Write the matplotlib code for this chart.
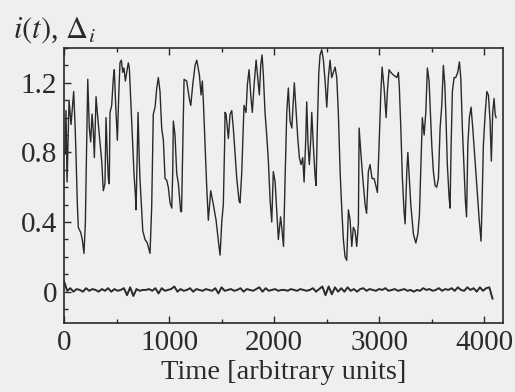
import matplotlib
matplotlib.use('Agg')
import matplotlib.pyplot as plt
from matplotlib.ticker import MultipleLocator
import numpy as np

# i(t) (time, value)
signal_t = [
    0, 10, 19, 29, 48, 57, 67, 79, 92, 105, 114, 127, 136, 159, 174, 190,
    203, 216, 226, 241, 254, 267, 279, 289, 305, 317, 336, 359, 374, 390,
    400, 412, 422, 431, 438, 454, 470, 479, 492, 508, 521, 533, 546, 559,
    571, 584, 597, 612, 622, 635, 654, 667, 679, 686, 705, 717, 724, 750,
    771, 793, 819, 835, 845, 850, 867, 883, 898, 914, 930, 946, 962, 978,
    993, 1010, 1026, 1035, 1041, 1057, 1073, 1089, 1111, 1119, 1143, 1168,
    1193, 1207, 1226, 1248, 1264, 1289, 1305, 1317, 1327, 1343, 1359, 1374,
    1397, 1422, 1448, 1470, 1486, 1502, 1517, 1530, 1533, 1543, 1565, 1581,
    1597, 1612, 1629, 1645, 1667, 1676, 1692, 1714, 1733, 1746, 1762, 1778,
    1793, 1810, 1829, 1845, 1860, 1873, 1886, 1898, 1914, 1930, 1946, 1962,
    1978, 1993, 2010, 2026, 2041, 2062, 2073, 2090, 2105, 2121, 2136, 2152,
    2169, 2184, 2193, 2210, 2226, 2241, 2257, 2273, 2286, 2302, 2311, 2324,
    2336, 2350, 2359, 2374, 2390, 2400, 2412, 2426, 2438, 2454, 2470, 2486,
    2502, 2517, 2533, 2549, 2565, 2581, 2597, 2612, 2629, 2645, 2660, 2676,
    2692, 2708, 2724, 2740, 2755, 2771, 2787, 2803, 2810, 2826, 2845, 2867,
    2881, 2898, 2914, 2933, 2952, 2969, 2984, 3000, 3016, 3029, 3048, 3067,
    3079, 3095, 3111, 3136, 3169, 3184, 3193, 3207, 3222, 3238, 3248, 3264,
    3274, 3289, 3302, 3327, 3350, 3369, 3384, 3400, 3412, 3429, 3445, 3460,
    3476, 3486, 3502, 3517, 3533, 3549, 3565, 3581, 3597, 3612, 3626, 3638,
    3650, 3667, 3676, 3686, 3698, 3714, 3730, 3749, 3765, 3778, 3793, 3810,
    3822, 3833, 3845, 3860, 3876, 3892, 3914, 3936, 3955, 3971, 3981, 3993,
    4010, 4026, 4041, 4057, 4069, 4082, 4095, 4105, 4114,
]
signal_v = [
    0.80, 0.79, 1.04, 0.63, 1.10, 1.03, 0.96, 1.05, 1.15, 0.96, 0.79, 0.50,
    0.37, 0.34, 0.30, 0.22, 0.39, 0.87, 1.22, 0.94, 0.86, 1.02, 0.92, 0.77,
    1.12, 1.03, 0.90, 0.75, 0.58, 0.62, 1.00, 0.79, 0.65, 0.62, 1.03, 1.07,
    1.23, 1.275, 1.07, 0.87, 1.13, 1.315, 1.33, 1.26, 1.285, 1.21, 1.26,
    1.315, 1.285, 1.11, 0.84, 0.67, 0.56, 0.47, 1.03, 0.75, 0.64, 0.35,
    0.30, 0.28, 0.22, 0.49, 0.87, 1.02, 1.06, 1.17, 1.23, 1.15, 0.94, 0.87,
    0.65, 0.64, 0.60, 0.51, 0.48, 0.68, 0.98, 0.90, 0.68, 0.62, 0.46, 0.46,
    1.22, 1.21, 1.11, 1.07, 1.19, 1.30, 1.33, 1.245, 1.13, 1.21, 1.09, 0.84,
    0.60, 0.41, 0.58, 0.50, 0.41, 0.29, 0.21, 0.40, 0.50, 0.87, 1.03, 1.02,
    0.88, 1.02, 1.04, 0.94, 0.79, 0.65, 0.52, 0.51, 0.68, 1.07, 1.03, 1.19,
    1.275, 1.13, 1.03, 1.19, 1.33, 1.23, 1.13, 1.30, 1.36, 1.245, 1.03,
    0.90, 0.75, 0.53, 0.40, 0.69, 0.63, 0.46, 0.30, 0.43, 0.37, 0.26, 0.65,
    1.03, 1.17, 0.98, 0.94, 1.11, 1.20, 1.03, 0.88, 0.77, 0.73, 0.77, 0.63,
    0.88, 1.09, 0.84, 0.73, 0.88, 1.03, 0.84, 0.67, 0.61, 0.94, 1.26, 1.36,
    1.39, 1.33, 1.21, 1.06, 1.23, 1.33, 1.23, 1.26, 1.29, 1.23, 1.03, 0.69,
    0.47, 0.30, 0.20, 0.18, 0.47, 0.41, 0.26, 0.37, 0.35, 0.26, 0.39, 0.94,
    0.80, 0.65, 0.50, 0.45, 0.69, 0.73, 0.65, 0.65, 0.61, 0.57, 0.84, 1.13,
    1.29, 1.17, 1.00, 1.15, 1.275, 1.26, 1.245, 1.23, 1.26, 1.17, 0.94,
    0.65, 0.46, 0.39, 0.69, 0.80, 0.64, 0.50, 0.33, 0.28, 0.33, 0.44, 0.75,
    1.00, 0.90, 1.03, 1.285, 1.21, 1.07, 0.84, 0.69, 0.61, 0.60, 0.65, 0.94,
    1.07, 1.30, 1.19, 0.98, 0.73, 0.54, 0.48, 0.84, 1.15, 1.23, 1.23, 1.26,
    1.32, 1.23, 0.94, 0.69, 0.52, 0.43, 0.84, 1.00, 1.06, 0.94, 0.75, 0.56,
    0.40, 0.29, 0.52, 0.84, 1.02, 1.15, 1.13, 0.98, 0.75, 1.03, 1.11, 1.02,
    1.00,
]

# Delta_i, the small fluctuation near zero, sampled evenly to t = 4080
delta_v = [
    0.06, 0.005, 0.02, 0.00, 0.015, 0.01, 0.00, 0.02, 0.005, 0.015,
    0.01, 0.00, 0.015, 0.005, 0.02, 0.00, 0.015, 0.005, 0.01, 0.02,
    -0.02, 0.025, -0.025, 0.015, 0.005, 0.01, 0.01, 0.015, 0.005, 0.02,
    -0.01, 0.02, 0.005, 0.01, 0.015, 0.03, 0.00, 0.015, 0.005, 0.01,
    0.02, 0.00, 0.015, 0.01, 0.005, 0.015, 0.01, 0.005, 0.02, -0.01,
    0.025, 0.005, 0.01, 0.015, 0.005, 0.01, 0.02, 0.00, 0.015, 0.01,
    0.005, 0.015, 0.025, 0.00, 0.02, 0.005, 0.01, 0.015, 0.005, 0.01,
    0.01, 0.005, 0.015, 0.01, 0.005, 0.015, 0.01, 0.005, 0.01, 0.02,
    0.00, 0.015, 0.03, -0.02, 0.03, -0.015, 0.025, 0.00, 0.02, 0.00,
    0.025, 0.005, 0.015, 0.00, 0.015, 0.02, 0.005, 0.015, 0.01, 0.005,
    0.015, 0.01, 0.02, 0.005, 0.01, 0.015, 0.005, 0.01, 0.015, 0.005,
    0.01, 0.00, 0.01, 0.005, 0.02, 0.01, 0.015, 0.005, 0.01, 0.02,
    0.005, 0.015, 0.01, 0.02, 0.005, 0.025, 0.01, 0.005, 0.025, 0.01,
    0.02, 0.00, 0.025, 0.005, 0.02, 0.025, -0.04,
]
delta_t = np.linspace(0, 4080, len(delta_v))

x_ticks = [0, 1000, 2000, 3000, 4000]
y_ticks = [0, 0.4, 0.8, 1.2]
y_tick_labels = ['0', '0.4', '0.8', '1.2']

plt.rcParams['font.family'] = ['Liberation Serif', 'DejaVu Serif']
plt.rcParams['mathtext.fontset'] = 'stix'

paper = '#efefed'
ink = '#2a2a2a'

fig = plt.figure(figsize=(5.15, 3.92), dpi=100, facecolor=paper)
ax = fig.add_axes([0.1243, 0.176, 0.8524, 0.7016], facecolor=paper)

ax.plot(signal_t, signal_v, color=ink, linewidth=1.0)
ax.plot(delta_t, delta_v, color=ink, linewidth=1.4)

ax.set_xlim(0, 4180)
ax.set_ylim(-0.18, 1.40)
ax.set_xticks(x_ticks)
ax.set_yticks(y_ticks)
ax.set_yticklabels(y_tick_labels)
ax.xaxis.set_minor_locator(MultipleLocator(500))
ax.yaxis.set_minor_locator(MultipleLocator(0.1))
ax.tick_params(which='both', direction='in', top=True, right=False,
               colors=ink, labelsize=21, width=1.0)
ax.tick_params(which='major', length=5, pad=5)
ax.tick_params(which='minor', length=3)
for spine in ax.spines.values():
    spine.set_linewidth(1.2)
    spine.set_color(ink)

ax.set_xlabel('Time [arbitrary units]', fontsize=20.5, color=ink, labelpad=3)
fig.text(0.025, 0.905, r'$i(t)$, $\Delta_i$', fontsize=22, color=ink)

fig.savefig('out.png', dpi=100, facecolor=paper)
